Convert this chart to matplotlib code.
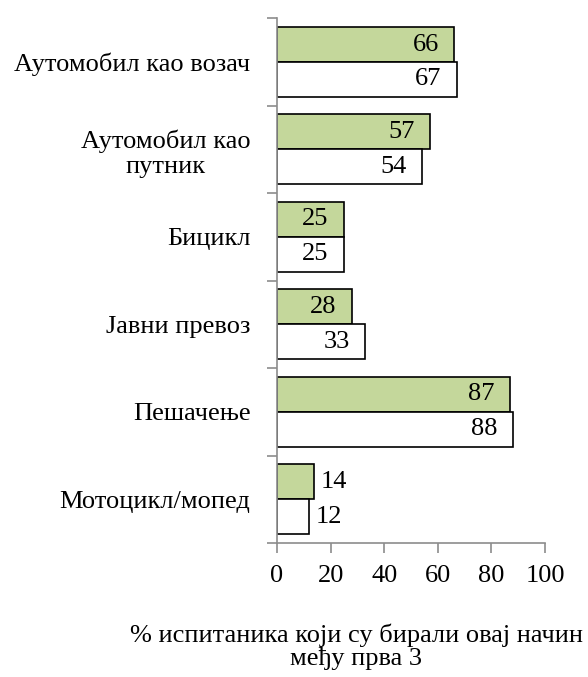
import numpy as np
import matplotlib.pyplot as plt
from matplotlib.transforms import offset_copy

plt.rcParams['font.family'] = ['Liberation Serif', 'DejaVu Serif']

categories = ['Аутомобил као возач', 'Аутомобил као\nпутник', 'Бицикл',
              'Јавни превоз', 'Пешачење', 'Мотоцикл/мопед']
green_vals = [66, 57, 25, 28, 87, 14]
white_vals = [67, 54, 25, 33, 88, 12]
xticks = [0, 20, 40, 60, 80, 100]

fig = plt.figure(figsize=(5.88, 6.77), dpi=100)
ax = fig.add_axes([0.471, 0.198, 0.456, 0.775])

n = len(categories)
y = np.arange(n)[::-1]  # first category at top
h = 0.4
ax.barh(y + h / 2, green_vals, height=h, color='#C4D79B', edgecolor='black', linewidth=1.2)
ax.barh(y - h / 2, white_vals, height=h, color='white', edgecolor='black', linewidth=1.2)

# value labels: inside the bar end, or just outside for short bars
inside = offset_copy(ax.transData, fig=fig, x=-11, y=0, units='points')
outside = offset_copy(ax.transData, fig=fig, x=4.5, y=0, units='points')
for yy, g, w in zip(y, green_vals, white_vals):
    for val, pos in ((g, yy + h / 2), (w, yy - h / 2)):
        if val > 20:
            ax.text(val, pos, str(val), ha='right', va='center', fontsize=19, transform=inside)
        else:
            ax.text(val, pos, str(val), ha='left', va='center', fontsize=19, transform=outside)

ax.set_xlim(0, 100)
ax.set_ylim(-0.5, n - 0.5)
ax.set_xticks(xticks)
ax.set_xticklabels([str(t) for t in xticks], fontsize=19)
ax.set_yticks(np.arange(n + 1) - 0.5)
ax.set_yticklabels([])
ax.set_yticks(y, minor=True)
ax.set_yticklabels(categories, minor=True, fontsize=19, ha='right',
                   multialignment='center', linespacing=1.2)
ax.tick_params(axis='y', which='minor', length=0, pad=19)
ax.tick_params(axis='y', which='major', length=7, color='#8c8c8c', width=1.2)
ax.tick_params(axis='x', length=7, color='#8c8c8c', width=1.2, pad=9)

for s in ('top', 'right'):
    ax.spines[s].set_visible(False)
for s in ('left', 'bottom'):
    ax.spines[s].set_color('#8c8c8c')
    ax.spines[s].set_linewidth(1.2)

fig.text(356 / 588, 1 - 647 / 677, '% испитаника који су бирали овај начин\nмеђу прва 3',
         ha='center', va='center', fontsize=19, linespacing=1.0)

fig.savefig('out.png', dpi=100)
